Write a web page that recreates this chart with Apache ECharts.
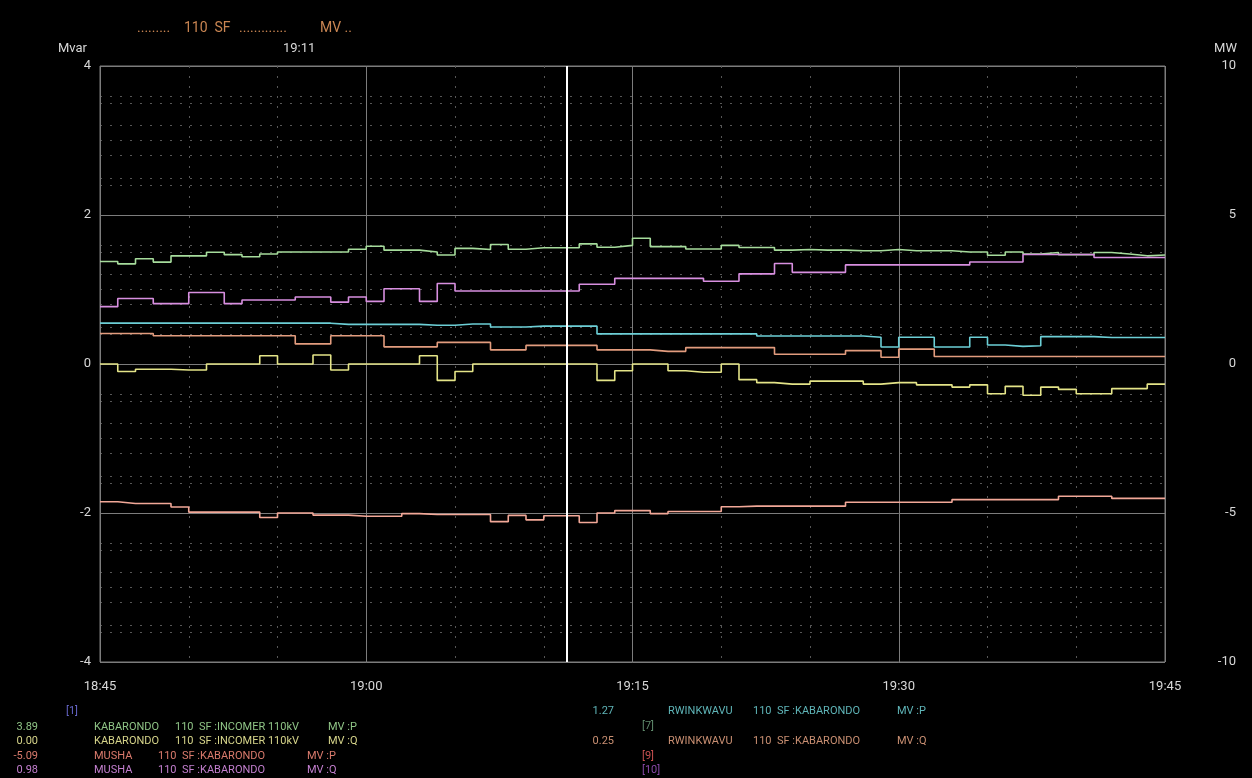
<!DOCTYPE html>
<html>
<head>
<meta charset="utf-8">
<title>trend</title>
<script src="https://cdn.jsdelivr.net/npm/echarts@6/dist/echarts.min.js"></script>
<style>
  html, body { margin: 0; padding: 0; background: #000; }
  #tuli { width: 1252px; height: 778px; }
</style>
</head>
<body>
<div id="tuli"></div>
<script>
// x axis: minutes after 18:45, one sample per minute
var tickLabels = ['18:45', '19:00', '19:15', '19:30', '19:45'];
var cursorMin = 26.3; // 19:11

// KABARONDO 110 SF :INCOMER 110kV  MV :P  (MW, right axis)
var kabP = [3.44,3.36,3.53,3.42,3.63,3.63,3.75,3.67,3.60,3.69,
            3.76,3.76,3.76,3.76,3.85,3.95,3.82,3.82,3.76,3.66,
            3.88,3.84,4.01,3.85,3.90,3.90,3.90,4.03,3.92,3.98,
            4.22,3.94,3.94,3.86,3.86,3.98,3.91,3.91,3.82,3.84,
            3.82,3.82,3.80,3.80,3.84,3.80,3.80,3.80,3.76,3.76,
            3.65,3.76,3.69,3.74,3.67,3.67,3.74,3.69,3.63,3.66,
            3.66];
// KABARONDO 110 SF :INCOMER 110kV  MV :Q  (Mvar, left axis)
var kabQ = [0.00,-0.10,-0.07,-0.07,-0.08,-0.08,0.00,0.00,0.00,0.11,
            0.00,0.00,0.12,-0.08,0.00,0.00,0.00,0.00,0.11,-0.22,
            -0.10,0.00,0.00,0.00,0.00,0.00,0.00,0.00,-0.22,-0.09,
            0.00,0.00,-0.09,-0.11,-0.11,0.00,-0.21,-0.25,-0.27,-0.27,
            -0.23,-0.23,-0.23,-0.27,-0.25,-0.25,-0.28,-0.28,-0.31,-0.28,
            -0.40,-0.30,-0.42,-0.31,-0.34,-0.40,-0.40,-0.33,-0.33,-0.27,
            -0.27];
// MUSHA 110 SF :KABARONDO  MV :P  (MW)
var mushaP = [-4.62,-4.68,-4.68,-4.68,-4.80,-4.97,-4.97,-4.97,-4.97,-5.15,
              -5.00,-5.00,-5.07,-5.07,-5.11,-5.11,-5.11,-5.02,-5.05,-5.05,
              -5.05,-5.05,-5.29,-5.08,-5.23,-5.09,-5.09,-5.32,-5.00,-4.92,
              -4.92,-5.02,-4.95,-4.95,-4.95,-4.79,-4.77,-4.77,-4.77,-4.77,
              -4.77,-4.77,-4.64,-4.64,-4.64,-4.64,-4.64,-4.64,-4.55,-4.55,
              -4.55,-4.55,-4.55,-4.55,-4.44,-4.44,-4.44,-4.51,-4.51,-4.51,
              -4.51];
// MUSHA 110 SF :KABARONDO  MV :Q  (Mvar)
var mushaQ = [0.77,0.88,0.88,0.81,0.81,0.96,0.96,0.81,0.86,0.86,
              0.86,0.90,0.90,0.83,0.90,0.84,1.01,1.01,0.84,1.08,
              0.98,0.98,0.98,0.98,0.98,0.98,0.98,1.07,1.07,1.15,
              1.15,1.15,1.15,1.15,1.11,1.11,1.21,1.21,1.35,1.23,
              1.23,1.23,1.33,1.33,1.33,1.33,1.33,1.33,1.33,1.37,
              1.37,1.37,1.47,1.47,1.47,1.47,1.43,1.43,1.43,1.43,
              1.43];
// RWINKWAVU 110 SF :KABARONDO  MV :P  (MW)
var rwkP = [1.37,1.37,1.37,1.37,1.37,1.37,1.37,1.37,1.37,1.37,
            1.37,1.37,1.37,1.33,1.33,1.33,1.33,1.33,1.30,1.30,
            1.34,1.34,1.24,1.24,1.27,1.27,1.27,1.27,1.01,1.01,
            1.01,1.01,1.01,1.01,1.01,1.01,1.01,0.94,0.94,0.94,
            0.94,0.94,0.94,0.90,0.57,0.90,0.90,0.57,0.57,0.90,
            0.64,0.59,0.61,0.92,0.92,0.92,0.89,0.89,0.89,0.89,
            0.89];
// RWINKWAVU 110 SF :KABARONDO  MV :Q  (Mvar)
var rwkQ = [0.41,0.41,0.41,0.38,0.38,0.38,0.38,0.38,0.38,0.38,
            0.38,0.27,0.27,0.38,0.38,0.38,0.23,0.23,0.23,0.29,
            0.29,0.29,0.19,0.19,0.25,0.25,0.25,0.25,0.19,0.19,
            0.19,0.17,0.17,0.22,0.22,0.22,0.22,0.22,0.13,0.13,
            0.13,0.13,0.18,0.18,0.09,0.20,0.20,0.10,0.10,0.10,
            0.10,0.10,0.10,0.10,0.10,0.10,0.10,0.10,0.10,0.10,
            0.10];

function pairs(arr) {
    return arr.map(function (v, i) { return [i, v]; });
}

var FONT = 'Roboto';
var dotted = { color: '#575757', type: [2, 8], width: 1 };
var solid = { color: '#7c7c7c', width: 1 };

function stepLine(name, data, color, axis) {
    return {
        name: name,
        type: 'line',
        step: 'end',
        yAxisIndex: axis,
        symbol: 'none',
        data: pairs(data),
        lineStyle: { color: color, width: 1.6 },
        animation: false
    };
}

// legend table at the bottom
function rtxt(xRight, y, s, color, size) {
    return {
        type: 'text', x: xRight, y: y,
        style: { text: s, fill: color, font: (size || 11) + 'px ' + FONT, align: 'right', verticalAlign: 'middle' }
    };
}
function ltxt(x, y, s, color, size) {
    return {
        type: 'text', x: x, y: y,
        style: { text: s, fill: color, font: (size || 11) + 'px ' + FONT, align: 'left', verticalAlign: 'middle' }
    };
}

var cGreen = '#8fc486', cYellow = '#d6d48a', cRed = '#d97a6c', cMag = '#c37fcf', cCyan = '#5fb5b8', cTan = '#c98f72';

var graphics = [
    // header
    ltxt(137, 28, '.........', '#c98552', 14),
    ltxt(184, 28, '110  SF', '#c98552', 14),
    ltxt(239, 28, '.............', '#c98552', 14),
    ltxt(320, 28, 'MV ..', '#c98552', 14),
    ltxt(58, 49, 'Mvar', '#d8d8d8', 13),
    ltxt(283, 49, '19:11', '#d8d8d8', 13),
    rtxt(1237, 49, 'MW', '#d8d8d8', 13),
    // left block
    ltxt(66, 711, '[1]', '#6565c8'),
    rtxt(38, 727, '3.89', cGreen), ltxt(94, 727, 'KABARONDO', cGreen), ltxt(175, 727, '110  SF :INCOMER 110kV', cGreen), ltxt(328, 727, 'MV :P', cGreen),
    rtxt(38, 741, '0.00', cYellow), ltxt(94, 741, 'KABARONDO', cYellow), ltxt(175, 741, '110  SF :INCOMER 110kV', cYellow), ltxt(328, 741, 'MV :Q', cYellow),
    rtxt(38, 756, '-5.09', cRed), ltxt(94, 756, 'MUSHA', cRed), ltxt(158, 756, '110  SF :KABARONDO', cRed), ltxt(307, 756, 'MV :P', cRed),
    rtxt(38, 770, '0.98', cMag), ltxt(94, 770, 'MUSHA', cMag), ltxt(158, 770, '110  SF :KABARONDO', cMag), ltxt(307, 770, 'MV :Q', cMag),
    // right block
    rtxt(614, 711, '1.27', cCyan), ltxt(668, 711, 'RWINKWAVU', cCyan), ltxt(753, 711, '110  SF :KABARONDO', cCyan), ltxt(897, 711, 'MV :P', cCyan),
    ltxt(642, 726, '[7]', '#5f8a6c'),
    rtxt(614, 741, '0.25', cTan), ltxt(668, 741, 'RWINKWAVU', cTan), ltxt(753, 741, '110  SF :KABARONDO', cTan), ltxt(897, 741, 'MV :Q', cTan),
    ltxt(642, 756, '[9]', '#c85050'),
    ltxt(642, 770, '[10]', '#8a48a8')
];

var chart = echarts.init(document.getElementById('tuli'));
var option = {
    backgroundColor: '#000',
    animation: false,
    textStyle: { fontFamily: FONT },
    grid: { left: 100, right: 87, top: 66, bottom: 116, show: true, borderColor: '#7c7c7c', borderWidth: 1 },
    xAxis: {
        type: 'value', min: 0, max: 60, interval: 15,
        axisLine: { show: false }, axisTick: { show: false },
        axisLabel: {
            color: '#d8d8d8', fontSize: 13, margin: 18,
            formatter: function (v) { return tickLabels[Math.round(v / 15)]; }
        },
        splitLine: { show: true, lineStyle: solid },
        minorTick: { show: false, splitNumber: 3 },
        minorSplitLine: { show: true, lineStyle: dotted }
    },
    yAxis: [
        {
            type: 'value', min: -4, max: 4, interval: 2, position: 'left',
            axisLine: { show: false }, axisTick: { show: false },
            axisLabel: { color: '#d8d8d8', fontSize: 13, margin: 9 },
            splitLine: { show: true, lineStyle: solid },
            minorTick: { show: false, splitNumber: 4 },
            minorSplitLine: { show: true, lineStyle: dotted }
        },
        {
            type: 'value', min: -10, max: 10, interval: 5, position: 'right',
            axisLine: { show: false }, axisTick: { show: false },
            axisLabel: { color: '#d8d8d8', fontSize: 13, margin: 71, align: 'right' },
            splitLine: { show: false },
            minorTick: { show: false, splitNumber: 5 },
            minorSplitLine: { show: true, lineStyle: dotted }
        }
    ],
    series: [
        stepLine('KABARONDO MV :P', kabP, '#a6dc9c', 1),
        stepLine('KABARONDO MV :Q', kabQ, '#e4e488', 0),
        stepLine('MUSHA MV :P', mushaP, '#f2a898', 1),
        stepLine('MUSHA MV :Q', mushaQ, '#d88fe0', 0),
        stepLine('RWINKWAVU MV :P', rwkP, '#6ccfd6', 1),
        stepLine('RWINKWAVU MV :Q', rwkQ, '#e29c7e', 0)
    ],
    graphic: graphics
};
// cursor line
option.series[1].markLine = {
    silent: true, symbol: 'none', label: { show: false },
    lineStyle: { color: '#ffffff', width: 2, type: 'solid' },
    data: [{ xAxis: cursorMin }]
};
chart.setOption(option);
</script>
</body>
</html>
